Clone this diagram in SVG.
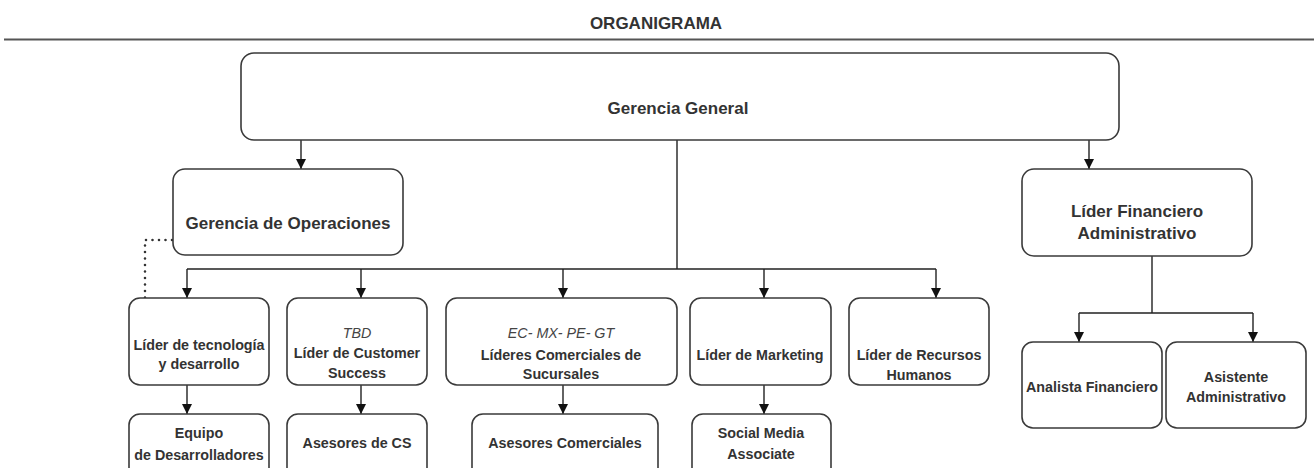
<svg xmlns="http://www.w3.org/2000/svg" width="1314" height="468" viewBox="0 0 1314 468">
<defs>
<marker id="arr" viewBox="0 0 10 10" refX="10" refY="5" markerWidth="10" markerHeight="10" markerUnits="userSpaceOnUse" orient="auto">
<path d="M0,0 L10,5 L0,10 Z" fill="#111"/>
</marker>
<style>
.box{fill:#fff;stroke:#3a3a3a;stroke-width:1.6}
.t{font-family:"Liberation Sans",Arial,sans-serif;font-weight:bold;fill:#333;text-anchor:middle}
.big{font-size:17px}
.sm{font-size:14.3px}
.it{font-family:"Liberation Sans",Arial,sans-serif;font-style:italic;font-size:14.3px;fill:#444;text-anchor:middle}
.c{fill:none;stroke:#222;stroke-width:1.4}
.ca{fill:none;stroke:#222;stroke-width:1.4;marker-end:url(#arr)}
</style>
</defs>
<rect width="1314" height="468" fill="#fff"/>
<text class="t big" x="656" y="29">ORGANIGRAMA</text>
<line x1="4" y1="39.5" x2="1314" y2="39.5" stroke="#555" stroke-width="2"/>

<g id="connectors">
<path class="ca" d="M301,140 V169"/>
<path class="ca" d="M1089,140 V169"/>
<path class="c" d="M677,140 V269 M187,269 H936"/>
<path class="ca" d="M187,269 V298"/>
<path class="ca" d="M361,269 V298"/>
<path class="ca" d="M563,269 V298"/>
<path class="ca" d="M764,269 V298"/>
<path class="ca" d="M936,269 V298"/>
<path class="ca" d="M187,385 V414"/>
<path class="ca" d="M361,385 V414"/>
<path class="ca" d="M563,385 V414"/>
<path class="ca" d="M764,385 V414"/>
<path class="c" d="M1152,256 V313 M1079,313 H1253"/>
<path class="ca" d="M1079,313 V342"/>
<path class="ca" d="M1253,313 V342"/>
<path d="M172,240 H145 V298" fill="none" stroke="#333" stroke-width="2.6" stroke-linecap="round" stroke-dasharray="0,6.5"/>
</g>

<g id="gerencia-general">
<rect class="box" x="241" y="53" width="878" height="87" rx="13"/>
<text class="t big" x="678" y="114">Gerencia General</text>
</g>
<g id="gerencia-operaciones">
<rect class="box" x="173" y="169" width="230" height="86" rx="12"/>
<text class="t big" x="288" y="229">Gerencia de Operaciones</text>
</g>
<g id="lider-financiero">
<rect class="box" x="1022" y="169" width="230" height="87" rx="12"/>
<text class="t big" x="1137" y="217">Líder Financiero</text>
<text class="t big" x="1137" y="239">Administrativo</text>
</g>
<g id="lider-tecnologia">
<rect class="box" x="129" y="298" width="140" height="87" rx="11"/>
<text class="t sm" x="199" y="350">Líder de tecnología</text>
<text class="t sm" x="199" y="369">y desarrollo</text>
</g>
<g id="lider-customer-success">
<rect class="box" x="287" y="298" width="140" height="87" rx="11"/>
<text class="it" x="357" y="338">TBD</text>
<text class="t sm" x="357" y="358">Líder de Customer</text>
<text class="t sm" x="357" y="378">Success</text>
</g>
<g id="lideres-comerciales">
<rect class="box" x="446" y="298" width="231" height="87" rx="11"/>
<text class="it" x="561" y="338">EC- MX- PE- GT</text>
<text class="t sm" x="561" y="360">Líderes Comerciales de</text>
<text class="t sm" x="561" y="379">Sucursales</text>
</g>
<g id="lider-marketing">
<rect class="box" x="690" y="298" width="141" height="87" rx="11"/>
<text class="t sm" x="760" y="360">Líder de Marketing</text>
</g>
<g id="lider-rrhh">
<rect class="box" x="849" y="298" width="140" height="87" rx="11"/>
<text class="t sm" x="919" y="360">Líder de Recursos</text>
<text class="t sm" x="919" y="380">Humanos</text>
</g>
<g id="equipo-desarrolladores">
<rect class="box" x="129" y="414" width="140" height="70" rx="11"/>
<text class="t sm" x="199" y="438">Equipo</text>
<text class="t sm" x="199" y="460">de Desarrolladores</text>
</g>
<g id="asesores-cs">
<rect class="box" x="287" y="414" width="140" height="70" rx="11"/>
<text class="t sm" x="357" y="448">Asesores de CS</text>
</g>
<g id="asesores-comerciales">
<rect class="box" x="472" y="414" width="186" height="70" rx="11"/>
<text class="t sm" x="565" y="448">Asesores Comerciales</text>
</g>
<g id="social-media">
<rect class="box" x="692" y="414" width="139" height="70" rx="11"/>
<text class="t sm" x="761" y="438">Social Media</text>
<text class="t sm" x="761" y="459">Associate</text>
</g>
<g id="analista-financiero">
<rect class="box" x="1022" y="342" width="140" height="86" rx="11"/>
<text class="t sm" x="1092" y="392">Analista Financiero</text>
</g>
<g id="asistente-administrativo">
<rect class="box" x="1166" y="342" width="140" height="86" rx="11"/>
<text class="t sm" x="1236" y="382">Asistente</text>
<text class="t sm" x="1236" y="402">Administrativo</text>
</g>
</svg>
